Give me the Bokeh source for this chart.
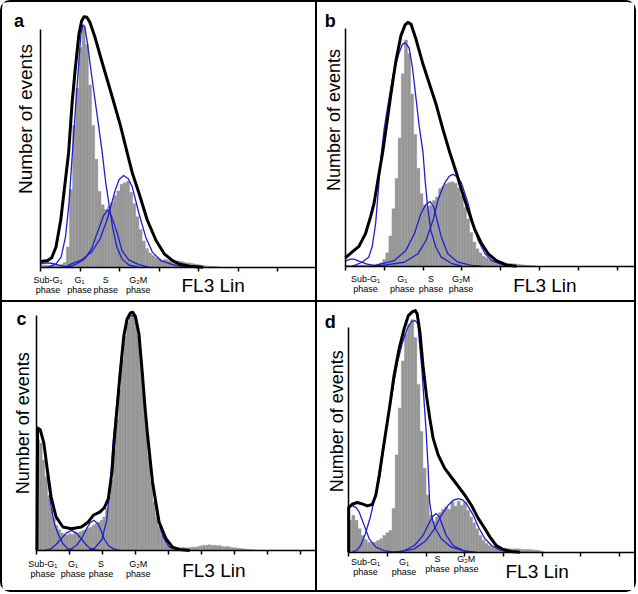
import numpy as np
from bokeh.plotting import figure
from bokeh.models import Range1d, FixedTicker
from bokeh.core.properties import value
from bokeh.layouts import column, row
from bokeh.embed import file_html
from bokeh.resources import INLINE

# ---------------- data (FL3 channel, number of events) ----------------
BIN = 8  # histogram bin width in FL3 channels

phase_top = ["Sub-G\u2081", "G\u2081", "S", "G\u2082M"]
phase_bottom = ["phase", "phase", "phase", "phase"]
x_title = "FL3 Lin"
y_title = "Number of events"

# panel a
a_hist = [6, 7, 5, 6, 5, 6, 8, 14, 60, 230, 420, 530, 650, 712, 660, 540, 420, 320, 225, 185,
          172, 180, 192, 212, 226, 246, 250, 255, 222, 188, 150, 112, 78, 56, 42, 35, 28, 25, 22, 23,
          20, 22, 19, 18, 17, 14, 13, 12, 10, 9, 7, 5, 4, 3, 3, 2, 1]
a_black_x = [0, 17, 27, 38, 50, 60, 70, 79, 87, 96, 103, 109, 116, 124, 137, 154, 179, 201, 218, 231, 248, 269, 291, 312, 333, 350, 376, 410]
a_black_y = [17, 20, 28, 60, 140, 240, 340, 490, 590, 690, 730, 742, 740, 725, 680, 610, 510, 420, 340, 280, 220, 140, 80, 40, 20, 10, 3, 0]
a_sub_x = [0, 13, 26, 43, 60, 81]
a_sub_y = [10, 13, 12, 7, 3, 0]
a_g1_x = [17, 38, 51, 62, 71, 79, 88, 96, 101, 106, 111, 118, 128, 141, 154, 164, 173, 181, 192, 205, 222, 248]
a_g1_y = [0, 10, 30, 90, 190, 330, 480, 610, 690, 718, 712, 660, 570, 460, 350, 250, 180, 120, 60, 25, 7, 0]
a_s_x = [68, 90, 111, 128, 145, 158, 169, 179, 192, 205, 222, 248, 274]
a_s_y = [0, 10, 25, 55, 110, 152, 170, 150, 105, 50, 22, 8, 0]
a_g2m_x = [60, 77, 103, 128, 150, 167, 179, 188, 198, 209, 221, 231, 248, 265, 282, 303, 333, 368]
a_g2m_y = [0, 10, 22, 45, 85, 140, 190, 228, 260, 272, 262, 238, 160, 90, 45, 20, 8, 0]

# panel b
b_hist = [3, 3, 3, 3, 4, 4, 4, 5, 5, 6, 7, 10, 20, 40, 90, 170, 260, 380, 570, 670,
          630, 510, 390, 290, 215, 182, 176, 180, 195, 205, 230, 236, 244, 248, 250, 246, 232, 210, 175, 140,
          100, 72, 52, 40, 30, 25, 20, 17, 14, 12, 10, 9, 8, 8, 7, 6, 5, 4, 3, 2, 2]
b_black_x = [0, 17, 35, 52, 65, 74, 87, 96, 106, 117, 130, 143, 154, 161, 169, 182, 199, 216, 233, 251, 269, 286, 299, 316, 334, 351, 368, 389, 415, 441]
b_black_y = [25, 42, 59, 97, 147, 187, 277, 337, 417, 507, 607, 682, 715, 722, 717, 672, 602, 542, 482, 407, 337, 277, 227, 167, 107, 67, 37, 17, 4, 0]
b_sub_x = [0, 13, 22, 35, 52, 73, 95]
b_sub_y = [15, 21, 21, 15, 8, 2, 0]
b_g1_x = [17, 43, 60, 69, 78, 85, 92, 100, 111, 123, 137, 147, 154, 164, 173, 182, 190, 200, 206, 212, 220, 233, 247, 273, 302]
b_g1_y = [0, 12, 27, 57, 127, 227, 327, 407, 487, 567, 627, 657, 662, 647, 587, 497, 417, 337, 247, 177, 107, 57, 27, 9, 0]
b_s_x = [69, 92, 126, 156, 178, 195, 207, 218, 227, 234, 247, 264, 290, 325, 354]
b_s_y = [0, 7, 17, 47, 97, 157, 182, 192, 177, 147, 87, 37, 12, 3, 0]
b_g2m_x = [78, 109, 152, 187, 208, 226, 239, 256, 268, 277, 288, 299, 316, 329, 342, 360, 377, 406, 441]
b_g2m_y = [0, 5, 12, 37, 77, 137, 197, 247, 267, 272, 265, 247, 187, 127, 77, 37, 17, 4, 0]

# panel c
c_hist = [330, 320, 270, 220, 165, 125, 95, 75, 62, 52, 48, 46, 50, 48, 55, 52, 56, 60, 62, 66,
          70, 76, 80, 84, 90, 100, 125, 160, 210, 300, 390, 480, 570, 640, 680, 700, 700, 685, 640, 570,
          470, 370, 280, 205, 145, 100, 70, 45, 30, 18, 12, 8, 8, 7, 8, 9, 8, 8, 9, 10,
          10, 12, 14, 16, 15, 17, 15, 16, 14, 15, 12, 11, 12, 10, 9, 8, 7, 6, 5, 4,
          3, 3, 2]
c_black_x = [0, 2, 10, 21, 33, 43, 58, 79, 105, 135, 156, 171, 192, 205, 217, 228, 236, 244, 253, 264, 274, 284, 291, 299, 310, 320, 328, 335, 351, 371, 392, 412, 433, 464]
c_black_y = [0, 365, 360, 320, 230, 160, 100, 70, 65, 70, 85, 105, 115, 128, 155, 235, 340, 430, 530, 640, 690, 708, 710, 698, 645, 530, 430, 355, 205, 85, 35, 10, 3, 0]
c_sub_x = [0, 2, 12, 23, 33, 43, 53, 66, 79, 94, 115]
c_sub_y = [362, 362, 355, 310, 215, 130, 80, 45, 20, 5, 0]
c_g1_x = [23, 43, 58, 74, 89, 105, 120, 135, 151, 166, 187]
c_g1_y = [0, 5, 18, 35, 52, 60, 52, 35, 15, 4, 0]
c_s_x = [84, 105, 120, 135, 151, 161, 173, 185, 194, 204, 217, 233, 253]
c_s_y = [0, 5, 15, 35, 65, 82, 90, 80, 62, 35, 15, 5, 0]
c_g2m_x = [156, 176, 197, 212, 223, 231, 241, 251, 262, 272, 285, 297, 310, 320, 330, 341, 351, 366, 382, 402, 433]
c_g2m_y = [0, 8, 32, 90, 200, 320, 420, 525, 630, 682, 702, 696, 642, 528, 408, 300, 202, 100, 42, 10, 0]

# panel d
d_hist = [95, 110, 95, 70, 50, 38, 30, 28, 30, 35, 40, 50, 58, 65, 130, 290, 430, 570, 650, 680,
          693, 640, 500, 360, 250, 170, 110, 92, 105, 118, 128, 135, 128, 150, 138, 152, 140, 148, 125, 105,
          88, 70, 50, 36, 26, 19, 16, 14, 13, 12, 12, 11, 10, 10, 10, 9, 8, 8, 8, 7,
          6, 5, 2]
d_black_x = [0, 0, 9, 22, 35, 48, 61, 70, 79, 88, 96, 106, 117, 130, 143, 154, 165, 172, 177, 184, 192, 201, 210, 218, 231, 248, 274, 300, 317, 335, 352, 365, 381, 399, 420, 442]
d_black_y = [0, 133, 143, 148, 144, 138, 142, 170, 230, 300, 360, 435, 525, 605, 665, 705, 717, 720, 710, 655, 555, 465, 395, 340, 290, 250, 210, 170, 140, 100, 70, 45, 20, 8, 2, 0]
d_sub_x = [0, 10, 19, 27, 40, 53, 70, 92, 113]
d_sub_y = [133, 139, 133, 120, 80, 40, 15, 5, 0]
d_g1_x = [9, 22, 31, 43, 56, 69, 79, 88, 100, 113, 126, 139, 152, 163, 172, 179, 182, 189, 195, 200, 205, 209, 215, 222, 239, 265, 300, 329]
d_g1_y = [0, 7, 20, 55, 105, 170, 215, 290, 385, 480, 565, 625, 668, 688, 690, 680, 635, 545, 445, 360, 255, 150, 105, 75, 40, 15, 3, 0]
d_s_x = [121, 144, 170, 192, 209, 218, 226, 234, 239, 252, 270, 296, 321]
d_s_y = [0, 5, 20, 50, 90, 108, 115, 105, 90, 50, 20, 5, 0]
d_g2m_x = [104, 135, 170, 200, 222, 239, 257, 270, 283, 295, 304, 322, 335, 352, 369, 390, 416, 442]
d_g2m_y = [0, 2, 10, 35, 70, 110, 140, 155, 160, 155, 145, 110, 75, 40, 20, 7, 1, 0]

# ---------------- layout / style ----------------
FONT = "Liberation Sans"
GREY = "#979797"
BLUE = "#1f1fd2"
BW = 2  # frame line width (px)
LINE = f"{BW}px solid black"


def make_panel(cfg, hist, comps, black_x, black_y):
    x0, y0, x1, y1 = cfg["box"]            # outer box of the panel (page px)
    bl, bt, br, bb = cfg["borders"]
    cx0, cy0, cx1, cy1 = x0 + bl, y0 + bt, x1 - br, y1 - bb   # content box
    ax, base, tick_px = cfg["axis_x"], cfg["base_y"], cfg["tick_px"]

    def dx(gx):
        return (gx - ax) * 100 / tick_px

    def dy(gy):
        return (base - gy) * 3

    p = figure(width=x1 - x0, height=y1 - y0,
               x_range=Range1d(dx(cx0), dx(cx1)), y_range=Range1d(dy(cy1), dy(cy0)),
               x_axis_location="above", min_border=0,
               min_border_left=0, min_border_right=0, min_border_top=0, min_border_bottom=0,
               output_backend="svg", toolbar_location=None, styles=cfg["styles"])
    p.grid.visible = False
    p.outline_line_color = None
    p.background_fill_color = "white"
    p.border_fill_color = "white"

    xa = p.xaxis[0]
    xa.fixed_location = 0
    xa.bounds = (0, dx(cfg["right_x"]))
    xa.ticker = FixedTicker(ticks=list(range(0, cfg["n_ticks"] * 100, 100)))
    xa.major_label_text_font_size = "0px"
    xa.major_label_text_color = None
    xa.major_label_standoff = 0
    xa.major_tick_out = 0
    xa.major_tick_in = 4
    xa.minor_tick_line_color = None
    xa.axis_line_width = 1.5
    xa.major_tick_line_width = 1.5

    ya = p.yaxis[0]
    ya.fixed_location = 0
    ya.ticker = FixedTicker(ticks=[])
    ya.bounds = (0, dy(cfg["y_axis_top"]))
    ya.major_label_text_font_size = "0px"
    ya.major_label_text_color = None
    ya.major_label_standoff = 0
    ya.major_tick_out = 0
    ya.major_tick_in = 0
    ya.major_tick_line_color = None
    ya.minor_tick_line_color = None
    ya.axis_line_width = 1.5

    centers = np.arange(len(hist)) * BIN + BIN / 2
    p.vbar(x=centers, width=BIN, top=hist, bottom=0, fill_color=GREY, line_color=GREY, line_width=0.4)
    for cx, cy in comps:
        p.line(cx, cy, line_color=BLUE, line_width=1.3)
    p.line(black_x, black_y, line_color="black", line_width=3, line_join="round")

    def txt(xs, ys, texts, size, bold=False, angle=0.0):
        p.text(x=[dx(v) for v in xs], y=[dy(v) for v in ys], text=texts,
               text_font=value(FONT), text_font_size=value(f"{size}px"),
               text_font_style="bold" if bold else "normal", text_color="black",
               text_align="center", text_baseline="middle", angle=angle)

    lx, ly = cfg["letter_pos"]
    txt([lx], [ly], [cfg["letter"]], 18, bold=True)
    yx, yy = cfg["ylab_pos"]
    txt([yx], [yy], [y_title], cfg["ylab_size"], angle=np.pi / 2)
    txt(cfg["phase_x"], cfg["phase_y1"], phase_top, 9)
    txt(cfg["phase_x"], cfg["phase_y2"], phase_bottom, 9)
    fx, fy = cfg["xlab_pos"]
    txt([fx], [fy], [x_title], 19)
    return p


cfg_a = dict(box=(0, 0, 317, 302), borders=(BW, BW, BW, BW), axis_x=40, base_y=263.3, right_x=315,
             tick_px=39, n_ticks=8, y_axis_top=29, letter="a", letter_pos=(18.3, 20),
             ylab_pos=(25, 117), ylab_size=19,
             phase_x=[47, 78, 104, 136], phase_y1=[276] * 4, phase_y2=[285.5] * 4, xlab_pos=(210, 281),
             styles={"border-top": LINE, "border-left": LINE, "border-right": LINE, "border-bottom": LINE,
                     "border-top-left-radius": "10px"})
cfg_b = dict(box=(317, 0, 636, 302), borders=(0, BW, BW, BW), axis_x=344.7, base_y=262.3, right_x=633,
             tick_px=38.57, n_ticks=8, y_axis_top=28, letter="b", letter_pos=(329.7, 20),
             ylab_pos=(333, 118), ylab_size=18,
             phase_x=[364.7, 401.3, 429.7, 459.7], phase_y1=[275] * 4, phase_y2=[285] * 4, xlab_pos=(543, 281.7),
             styles={"border-top": LINE, "border-right": LINE, "border-bottom": LINE,
                     "border-top-right-radius": "10px"})
cfg_c = dict(box=(0, 302, 317, 592), borders=(BW, 0, BW, BW), axis_x=36, base_y=548.3, right_x=316,
             tick_px=32.5, n_ticks=9, y_axis_top=315, letter="c", letter_pos=(20.7, 318.3),
             ylab_pos=(22, 422), ylab_size=18,
             phase_x=[41.7, 71.7, 99.3, 136], phase_y1=[561.7] * 4, phase_y2=[571.7] * 4, xlab_pos=(210.7, 567.7),
             styles={"border-left": LINE, "border-right": LINE, "border-bottom": LINE,
                     "border-bottom-left-radius": "10px"})
cfg_d = dict(box=(317, 302, 636, 592), borders=(0, 0, BW, BW), axis_x=348, base_y=550, right_x=634,
             tick_px=38.47, n_ticks=8, y_axis_top=326.7, letter="d", letter_pos=(329.7, 321.7),
             ylab_pos=(336, 420), ylab_size=18,
             phase_x=[364.7, 403, 436.3, 464.7], phase_y1=[560, 560, 556.7, 556.7],
             phase_y2=[569.5, 569.5, 566.5, 566.5], xlab_pos=(535.3, 569),
             styles={"border-right": LINE, "border-bottom": LINE,
                     "border-bottom-right-radius": "10px"})

pa = make_panel(cfg_a, a_hist, [(a_sub_x, a_sub_y), (a_g1_x, a_g1_y), (a_s_x, a_s_y), (a_g2m_x, a_g2m_y)], a_black_x, a_black_y)
pb = make_panel(cfg_b, b_hist, [(b_sub_x, b_sub_y), (b_g1_x, b_g1_y), (b_s_x, b_s_y), (b_g2m_x, b_g2m_y)], b_black_x, b_black_y)
pc = make_panel(cfg_c, c_hist, [(c_sub_x, c_sub_y), (c_g1_x, c_g1_y), (c_s_x, c_s_y), (c_g2m_x, c_g2m_y)], c_black_x, c_black_y)
pd = make_panel(cfg_d, d_hist, [(d_sub_x, d_sub_y), (d_g1_x, d_g1_y), (d_s_x, d_s_y), (d_g2m_x, d_g2m_y)], d_black_x, d_black_y)

layout = column(row(pa, pb), row(pc, pd))
open("out.html", "w").write(file_html(layout, INLINE))
